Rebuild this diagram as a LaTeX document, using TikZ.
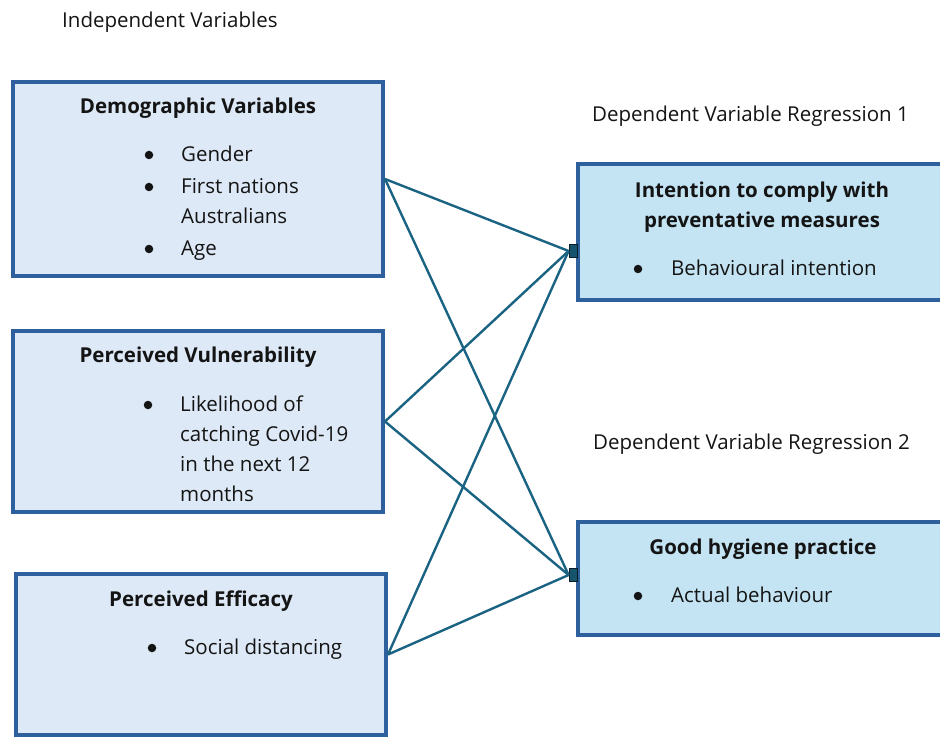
\documentclass[tikz,border=0pt]{standalone}
\usepackage{fontspec}
\setmainfont{Open Sans}
\definecolor{boxborder}{RGB}{46,96,158}
\definecolor{leftfill}{RGB}{221,233,246}
\definecolor{rightfill}{RGB}{196,228,244}
\definecolor{linkcol}{RGB}{26,99,130}
\definecolor{txt}{RGB}{20,20,20}
\tikzset{
  ivbox/.style={draw=boxborder, line width=4pt, fill=leftfill, inner sep=0pt},
  dvbox/.style={draw=boxborder, line width=4pt, fill=rightfill, inner sep=0pt},
  lbl/.style={inner sep=0pt, anchor=base west, text=txt, font=\fontsize{20.5}{24}\selectfont},
  ttl/.style={inner sep=0pt, anchor=base, text=txt, font=\fontsize{20.5}{24}\selectfont\bfseries},
  bul/.style={circle, fill=txt, minimum size=8.5pt, inner sep=0pt},
  link/.style={draw=linkcol, line width=2.4pt},
  marker/.style={draw=black!70!linkcol, line width=0.8pt, fill=linkcol!85!black, minimum width=8pt, minimum height=13pt, inner sep=0pt}
}
\begin{document}
\begin{tikzpicture}[x=1pt,y=-1pt]
\clip (0,0) rectangle (940,738);
\fill[white] (0,0) rectangle (940,738);

% headings
\node[lbl] (hIV) at (62,27.5) {Independent Variables};
\node[lbl] (hDV1) at (592,121.5) {Dependent Variable Regression 1};
\node[lbl] (hDV2) at (593,449.5) {Dependent Variable Regression 2};

% left boxes
\node[ivbox, minimum width=370pt, minimum height=194pt] (demo) at (198,179) {};
\node[ivbox, minimum width=370pt, minimum height=181pt] (vuln) at (198,421.5) {};
\node[ivbox, minimum width=370pt, minimum height=161pt] (eff) at (201,654.5) {};

% right boxes
\node[dvbox, minimum width=372pt, minimum height=136pt] (intn) at (764,232) {};
\node[dvbox, minimum width=372pt, minimum height=113pt] (hyg) at (764,578.5) {};

% markers
\node[marker] (m1) at (573,251) {};
\node[marker] (m2) at (573,575) {};

% connectors
\draw[link] (demo.east) -- (m1.west);
\draw[link] (demo.east) -- (m2.west);
\draw[link] (vuln.east) -- (m1.west);
\draw[link] (vuln.east) -- (m2.west);
\draw[link] (eff.east) -- (m1.west);
\draw[link] (eff.east) -- (m2.west);

% demographic text
\node[ttl] (tDemo) at (198,113.5) {Demographic Variables};
\node[bul] (b1) at (149,155) {};
\node[lbl] (g1) at (181,161.5) {Gender};
\node[bul] (b2) at (149,187) {};
\node[lbl] (g2) at (181,193.5) {First nations};
\node[lbl] (g3) at (181,223.5) {Australians};
\node[bul] (b3) at (149,249) {};
\node[lbl] (g4) at (181,255.5) {Age};

% vulnerability text
\node[ttl] (tVuln) at (198,362.5) {Perceived Vulnerability};
\node[bul] (b4) at (148,405) {};
\node[lbl] (v1) at (180,411.5) {Likelihood of};
\node[lbl] (v2) at (180,441.5) {catching Covid-19};
\node[lbl] (v3) at (180,471.5) {in the next 12};
\node[lbl] (v4) at (180,501.5) {months};

% efficacy text
\node[ttl] (tEff) at (201,606.5) {Perceived Efficacy};
\node[bul] (b5) at (152,648) {};
\node[lbl] (e1) at (184,654.5) {Social distancing};

% intention text
\node[ttl] (tInt1) at (762,197.5) {Intention to comply with};
\node[ttl] (tInt2) at (762,227.5) {preventative measures};
\node[bul] (b6) at (638,269) {};
\node[lbl] (i1) at (671,275.5) {Behavioural intention};

% hygiene text
\node[ttl] (tHyg) at (763,554.5) {Good hygiene practice};
\node[bul] (b7) at (638,596) {};
\node[lbl] (h1) at (671,602.5) {Actual behaviour};
\end{tikzpicture}
\end{document}
